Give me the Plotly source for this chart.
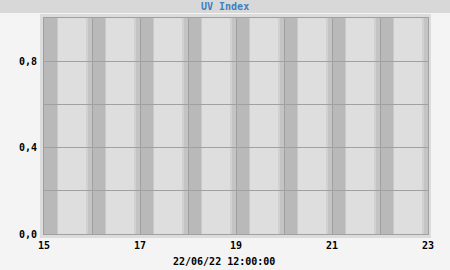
import plotly.graph_objects as go
from datetime import datetime, timedelta

# ---- data ----
day_labels = ["15", "16", "17", "18", "19", "20", "21", "22", "23"]
day_dates = ["2022-06-15", "2022-06-16", "2022-06-17", "2022-06-18",
             "2022-06-19", "2022-06-20", "2022-06-21", "2022-06-22", "2022-06-23"]
shown_tick_labels = ["15", "", "17", "", "19", "", "21", "", "23"]
y_ticks = [0.0, 0.2, 0.4, 0.6, 0.8]
y_tick_labels = ["0,0", "", "0,4", "", "0,8"]
# hours of day where the background shading changes (night/twilight/day)
band_starts = [0.0, 6.5, 7.0, 21.0, 22.0]
band_ends = [6.5, 7.0, 21.0, 22.0, 24.0]
band_colors = ["#b9b9b9", "#c9c9c9", "#dedede", "#d1d1d1", "#c4c4c4"]
uv_times = day_dates[:-1]
uv_values = [None] * len(uv_times)
title_text = "UV Index"
footer_text = "22/06/22 12:00:00"

W, H = 450, 270
L, R, T, B = 44, 22, 18, 36
pw, ph = W - L - R, H - T - B


def px(x):
    return (x - L) / pw


def py(y):
    return (H - B - y) / ph


fig = go.Figure()
fig.add_trace(go.Scatter(x=uv_times, y=uv_values, mode="lines",
                         line=dict(color="#4a86c8"), showlegend=False))

shapes = []
# title band
shapes.append(dict(type="rect", xref="paper", yref="paper", x0=px(0), x1=px(W),
                   y0=py(13), y1=py(0), fillcolor="#d8d8d8", line_width=0, layer="below"))
# frame around plot
shapes.append(dict(type="rect", xref="paper", yref="paper", x0=px(40), x1=px(431),
                   y0=py(238), y1=py(14), fillcolor="#dcdcdc", line_width=0, layer="below"))
# day/night shading
for d in day_dates[:-1]:
    base = datetime.fromisoformat(d)
    for s, e, c in zip(band_starts, band_ends, band_colors):
        shapes.append(dict(type="rect", xref="x", yref="paper",
                           x0=base + timedelta(hours=s), x1=base + timedelta(hours=e),
                           y0=0, y1=1, fillcolor=c, line_width=0, layer="below"))
fig.update_layout(shapes=shapes)

mono = "DejaVu Sans Mono"
fig.update_layout(
    width=W, height=H,
    margin=dict(l=L, r=R, t=T, b=B, pad=0),
    paper_bgcolor="#f4f4f4",
    plot_bgcolor="rgba(0,0,0,0)",
    showlegend=False,
    font=dict(family=mono, size=10, color="#000000", weight="bold"),
    xaxis=dict(
        type="date",
        range=[day_dates[0], day_dates[-1]],
        tickvals=day_dates, ticktext=shown_tick_labels,
        showgrid=True, gridcolor="#a0a0a0", gridwidth=1,
        showline=True, linecolor="#a0a0a0", linewidth=1, mirror=True,
        ticks="outside", ticklen=2, tickcolor="rgba(0,0,0,0)", zeroline=False,
        tickfont=dict(family=mono, size=10, color="#000000", weight="bold"),
    ),
    yaxis=dict(
        range=[0, 1],
        tickvals=y_ticks, ticktext=y_tick_labels,
        showgrid=True, gridcolor="#a0a0a0", gridwidth=1,
        showline=True, linecolor="#a0a0a0", linewidth=1, mirror=True,
        ticks="outside", ticklen=4, tickcolor="rgba(0,0,0,0)", zeroline=False,
        tickfont=dict(family=mono, size=10, color="#000000", weight="bold"),
    ),
    annotations=[
        dict(text=title_text, xref="paper", yref="paper", x=px(225), y=py(6.5),
             xanchor="center", yanchor="middle", showarrow=False,
             font=dict(family=mono, size=10, color="#3f7fc0", weight="bold")),
        dict(text=footer_text, xref="paper", yref="paper", x=px(224), y=py(261),
             xanchor="center", yanchor="middle", showarrow=False,
             font=dict(family=mono, size=10, color="#000000", weight="bold")),
    ],
)

fig.write_html("out.html")
